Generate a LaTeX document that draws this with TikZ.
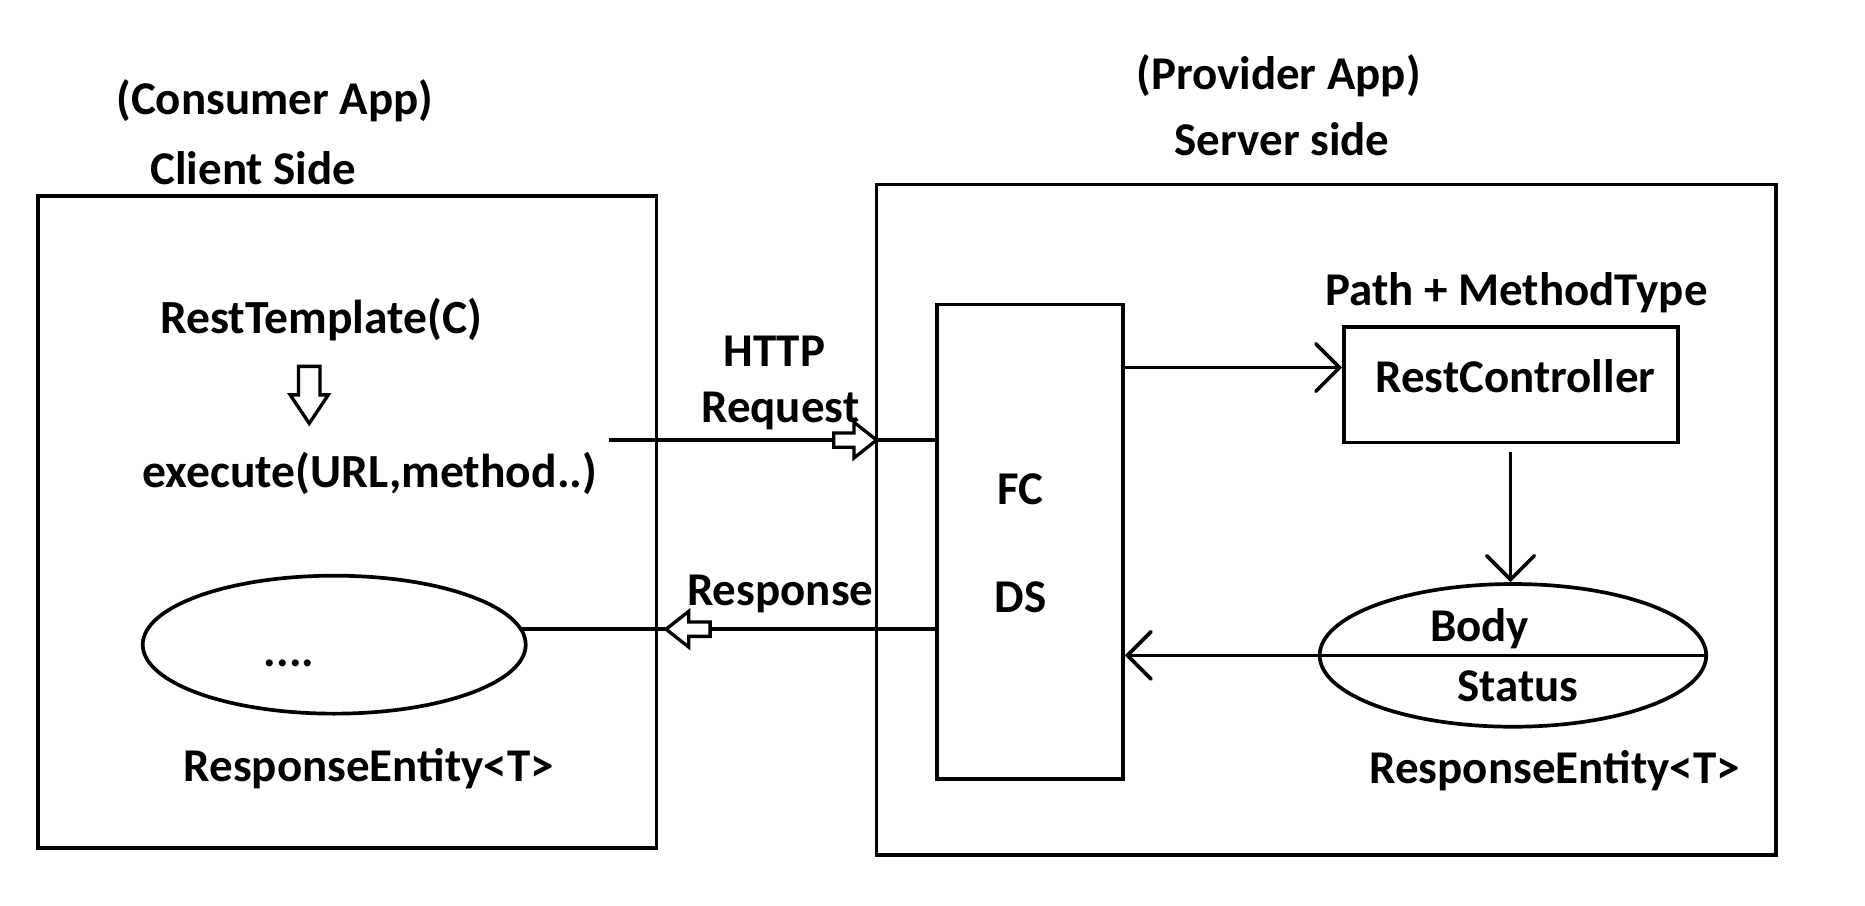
\documentclass[tikz,border=0pt]{standalone}
\usepackage{fontspec}
\setmainfont{Carlito}
\usetikzlibrary{arrows.meta,shapes.geometric}
\begin{document}
\begin{tikzpicture}[x=1pt,y=-1pt,line width=3.1pt,
  txt/.style={font=\fontsize{39.5}{46}\selectfont\bfseries,inner sep=0pt,anchor=base},
  wtxt/.style={txt,font=\fontsize{40}{46}\selectfont\bfseries},
  box/.style={draw,line width=3.1pt,inner sep=0pt},
  oval/.style={draw,ellipse,line width=3.1pt,inner sep=0pt},
  vhead/.style={-{Straight Barb[length=20pt,width=40pt,line width=3.1pt,line cap=round]}},
  blockarr/.style={draw,fill=white,line width=2.8pt,line join=miter}]
\useasboundingbox (0,0) rectangle (1568,761);
% boxes
\node[box,minimum width=520,minimum height=548] (client) at (292,439) {};
\node[box,minimum width=756,minimum height=564] (server) at (1115,437) {};
\node[box,minimum width=156,minimum height=399] (fc) at (866,455.5) {};
\node[box,minimum width=281,minimum height=97] (rc) at (1270.5,323.5) {};
\node[oval,minimum width=322,minimum height=116] (ell1) at (281,542) {};
\node[oval,minimum width=325,minimum height=120] (ell2) at (1272,551) {};
% texts
\node[txt] (consumer) at (231,96) {(Consumer App)};
\node[txt] (clientside) at (213,155) {Client Side};
\node[txt] (provider) at (1075,75) {(Provider App)};
\node[txt] (serverside) at (1078,131) {Server side};
\node[wtxt] (resttemplate) at (270,280) {RestTemplate(C)};
\node[wtxt] (execute) at (311,410) {execute(URL,method..)};
\node[txt] (dots) at (243,560) {....};
\node[txt] (re1) at (310,657) {ResponseEntity<T>};
\node[txt] (http) at (651,308) {HTTP};
\node[txt] (request) at (656,355) {Request};
\node[txt] (response) at (656,509) {Response};
\node[txt] (fctext) at (858,424) {FC};
\node[txt] (dstext) at (858,515) {DS};
\node[txt] (pathmt) at (1275,257) {Path + MethodType};
\node[txt] (rctext) at (1274,330) {RestController};
\node[txt] (body) at (1244,539) {Body};
\node[txt] (status) at (1276,590) {Status};
\node[txt] (re2) at (1307,659) {ResponseEntity<T>};
% down block arrow (client side)
\draw[blockarr] (251,308) -- (269,308) -- (269,332) -- (276,332) -- (260,356) -- (244,332) -- (251,332) -- cycle;
% request line
\coordinate (reqstart) at (512,370);
\draw (reqstart) -- (reqstart -| fc.west);
\draw[blockarr] (701,364) -- (718,364) -- (718,355) -- (737,370) -- (718,385) -- (718,376) -- (701,376) -- cycle;
% response line
\coordinate (respend) at (439,529);
\draw (fc.west |- respend) -- (respend);
\draw[blockarr] (597,523) -- (579,523) -- (579,514) -- (560,529) -- (579,544) -- (579,535) -- (597,535) -- cycle;
% FC -> RestController
\coordinate (fcr) at (944,309);
\draw[vhead] (fcr) -- (fcr -| rc.west);
% RestController -> ResponseEntity
\coordinate (rcd) at (1270,380);
\draw[vhead] (rcd) -- (rcd |- ell2.north);
% ResponseEntity -> FC
\draw[vhead] (ell2.east) -- (ell2.east -| fc.east);
\end{tikzpicture}
\end{document}
